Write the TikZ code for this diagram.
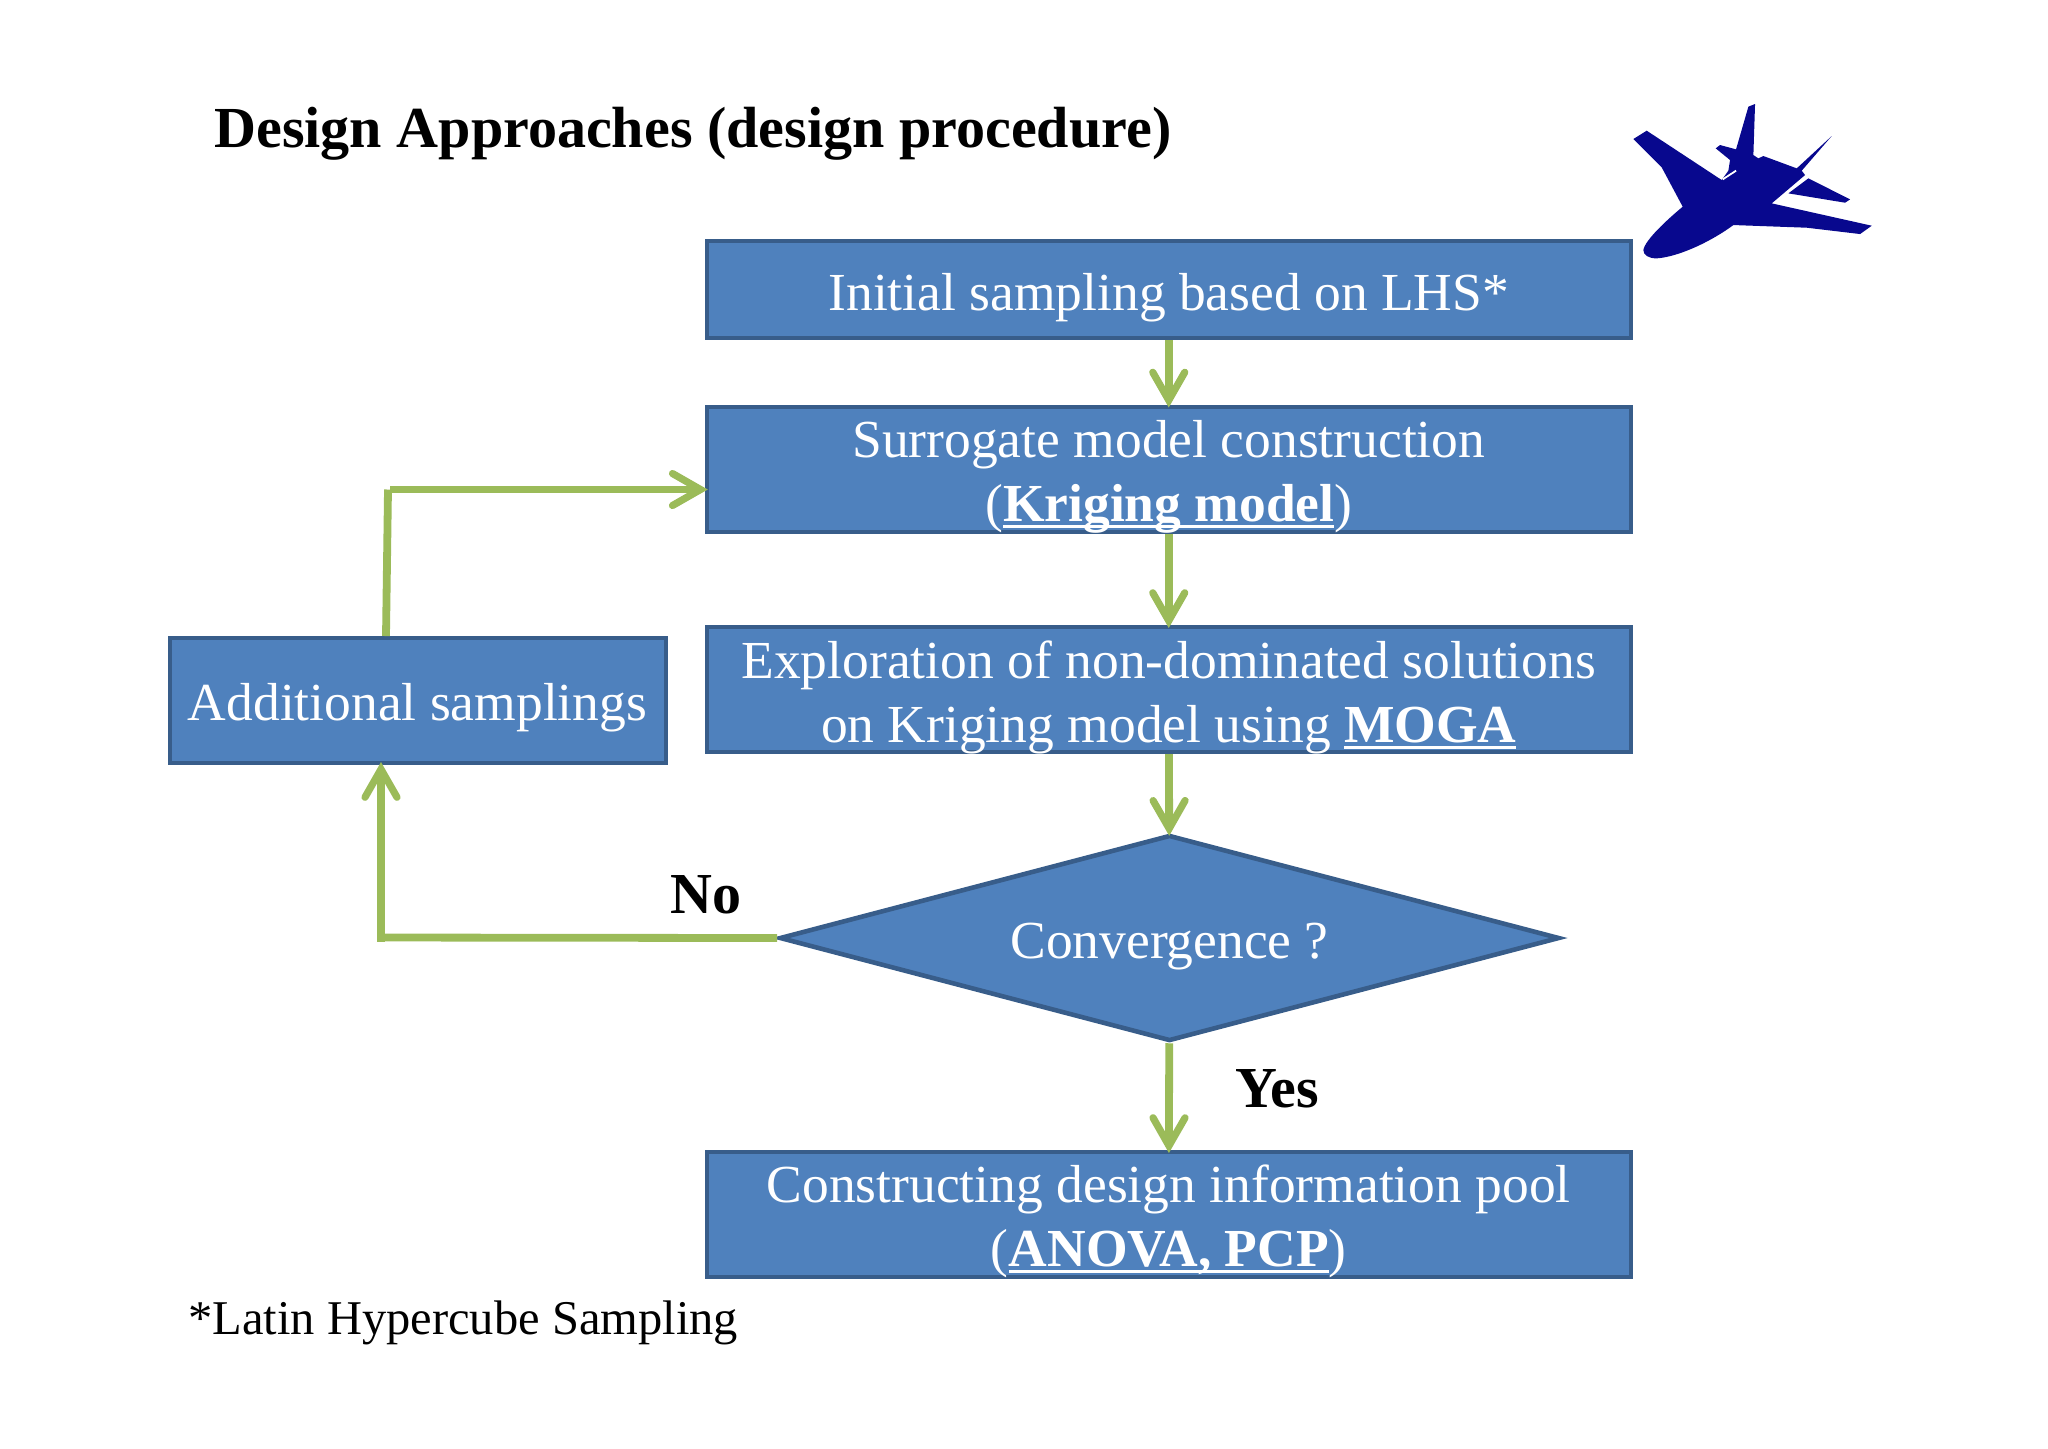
\documentclass[tikz,border=0pt]{standalone}
\usepackage{fontspec}
\setmainfont{Liberation Serif}
\usetikzlibrary{arrows.meta,shapes.geometric}
\definecolor{boxfill}{HTML}{4F81BD}
\definecolor{boxline}{HTML}{385D8A}
\definecolor{flow}{HTML}{9BBB59}
\definecolor{jet}{HTML}{08088E}
\newcommand\ultext[1]{\setbox0=\hbox{#1}\rlap{\rule[-3.4pt]{\wd0}{1.2pt}}\box0 }
\newcommand\boxtxt[2]{\raisebox{#1}[0pt][0pt]{\begin{tabular}[b]{@{}c@{}}#2\end{tabular}}}
\tikzset{
  x=.5pt,y=-.5pt,
  flowbox/.style={draw=boxline,fill=boxfill,line width=2pt,rectangle,text=white,inner sep=0pt,
    font=\fontsize{26.75}{32}\selectfont},
  decision/.style={draw=boxline,fill=boxfill,line width=2.3pt,diamond,text=white,inner sep=0pt,aspect=3.78,
    font=\fontsize{26.75}{32}\selectfont},
  link/.style={draw=flow,line width=3.9pt},
  linka/.style={link,shorten >=-1.5pt,-{Straight Barb[length=14pt,width=16pt,line cap=round,line width=3.6pt]}},
  bold label/.style={inner sep=0pt,anchor=base west,font=\fontsize{29}{32}\selectfont\bfseries},
}
\begin{document}
\begin{tikzpicture}
\useasboundingbox (0,0) rectangle (2048,1448);
\node[inner sep=0pt,anchor=base west,font=\fontsize{29.05}{32}\selectfont\bfseries] (title) at (214,147) {Design Approaches (design procedure)};
\node[flowbox,minimum width=462pt,minimum height=48.5pt] (b1) at (1168.75,289.5) {\boxtxt{-10.25pt}{Initial sampling based on LHS*}};
\node[flowbox,minimum width=462pt,minimum height=62.5pt] (b2) at (1168.75,469) {\boxtxt{-26pt}{Surrogate model construction\\(\ultext{\bfseries Kriging model})}};
\node[flowbox,minimum width=462pt,minimum height=62.5pt] (b3) at (1168.75,689.5) {\boxtxt{-26.25pt}{Exploration of non-dominated solutions\\on Kriging model using \ultext{\bfseries MOGA}}};
\node[decision,minimum width=390pt,minimum height=103pt] (d) at (1169.5,938) {\boxtxt{-10pt}{Convergence ?}};
\node[flowbox,minimum width=462pt,minimum height=62.5pt] (b5) at (1168.75,1214.5) {\boxtxt{-25.75pt}{Constructing design information pool\\(\ultext{\bfseries ANOVA, PCP})}};
\node[flowbox,minimum width=248pt,minimum height=62.5pt] (add) at (417.5,700.5) {\boxtxt{-9.75pt}{Additional samplings}};
\node[bold label] (no) at (670,913) {No};
\node[bold label] (yes) at (1235,1107) {Yes};
\node[inner sep=0pt,anchor=base west,font=\fontsize{24.25}{28}\selectfont] (foot) at (188,1334.5) {*Latin Hypercube Sampling};

\draw[linka] (b1) -- (b2);
\draw[linka] (b2) -- (b3);
\draw[linka] (b3) -- (d);
\draw[linka] (d) -- (b5);
\coordinate (c1) at (386,636);
\coordinate (c2) at (388,489.5);
\coordinate (c3) at (390,489.5);
\coordinate (c4) at (381,941.5);
\coordinate (c5) at (383,937.5);
\draw[link] (c1) -- (c2);
\draw[linka] (c3) -- (b2.west |- c3);
\draw[link] (d.west) -- (c5);
\draw[linka] (c4) -- (c4 |- add.south);

\begin{scope}[shift={(1600,80)},x=.1667pt,y=-.1667pt]
\fill[jet] (130,510) .. controls (135,480) and (200,420) .. (248,380) -- (185,262) -- (100,177) -- (140,152) -- (365,300) -- (385,272) -- (390,240) -- (347,205) -- (360,195) -- (408,208) -- (445,80) -- (465,72) -- (460,225) -- (475,235) -- (490,228) -- (590,265) -- (695,168) -- (605,272) -- (615,285) -- (515,370) -- (815,437) -- (780,462) -- (620,443) -- (400,435) .. controls (340,480) and (240,530) .. (170,535) .. controls (145,535) and (130,525) .. (130,510) -- cycle;
\fill[jet] (565,340) -- (625,295) -- (750,358) -- (735,368) -- cycle;
\draw[white,line width=.9pt] (368,298) -- (408,272);
\end{scope}
\end{tikzpicture}
\end{document}
